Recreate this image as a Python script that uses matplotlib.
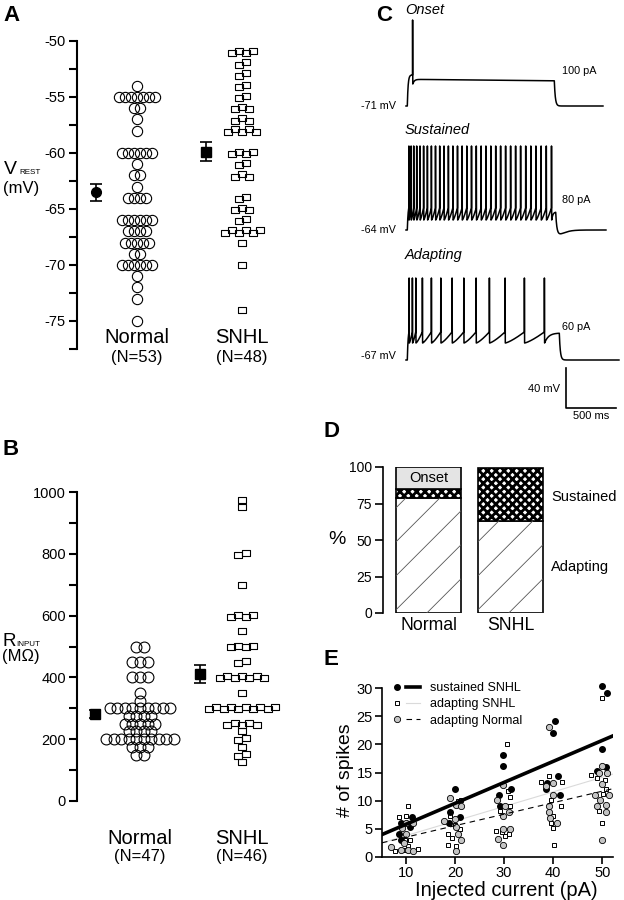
import numpy as np
import matplotlib
matplotlib.use('Agg')
import matplotlib.pyplot as plt
from matplotlib.path import Path
from matplotlib.lines import Line2D
from matplotlib.legend_handler import HandlerTuple

plt.rcParams['font.family'] = ['Liberation Sans', 'DejaVu Sans']
plt.rcParams['axes.unicode_minus'] = False
plt.rcParams['hatch.linewidth'] = 2.0

# ---- A: resting potential (mV); value rows and number of cells per row
vrest_normal = [-54, -55, -56, -57, -58, -60, -61, -62, -63, -64, -66, -67, -68, -69, -70, -71, -72, -73, -75]
vrest_normal_n = [1, 7, 2, 1, 1, 6, 1, 2, 1, 4, 6, 4, 5, 2, 6, 1, 1, 1, 1]
vrest_snhl = [-51, -52, -53, -54, -55, -56, -57, -58, -60, -61, -62, -64, -65, -66, -67, -68, -70, -74]
vrest_snhl_n = [4, 2, 2, 2, 2, 3, 3, 5, 4, 2, 3, 2, 3, 2, 6, 1, 1, 1]
vrest_mean = [-63.5, -59.9]
vrest_sem = [0.75, 0.85]

# ---- B: input resistance (MOhm)
rin_normal = [500, 450, 400, 350, 325, 300, 275, 250, 225, 200, 175, 150]
rin_normal_n = [2, 3, 3, 1, 1, 9, 4, 5, 4, 10, 3, 2]
rin_snhl = [975, 950, 800, 700, 600, 550, 500, 450, 400, 350, 300, 250, 225, 200, 175, 150, 125]
rin_snhl_n = [1, 1, 2, 1, 4, 1, 4, 2, 7, 1, 10, 5, 1, 2, 1, 2, 1]
rin_mean = [281, 411]
rin_sem = [12, 30]

# ---- C: example firing patterns (spike times in ms)
onset_spikes = [225]
sustained_spikes = [188, 210, 236, 266, 299, 335, 373, 413, 454, 496, 539, 583, 628, 674, 720,
                    767, 814, 862, 910, 958, 1007, 1056, 1105, 1155, 1205, 1255, 1305, 1356,
                    1407, 1458, 1510, 1562, 1614]
adapting_spikes = [190, 223, 257, 323, 413, 507, 620, 737, 860, 993, 1150, 1343, 1543]

# ---- D: firing pattern percentages
d_groups = ['Normal', 'SNHL']
d_adapting = [79, 63]
d_sustained = [6, 36]
d_onset = [15, 0]

# ---- E: spikes vs injected current
sus_x = [11.2, 8.9, 10.9, 8.6, 8.9, 20.0, 18.9, 21.0, 18.7, 29.8, 29.8, 31.5, 28.9, 29.2,
         40.4, 39.9, 41.0, 38.7, 38.5, 41.4, 49.9, 51.0, 49.9, 48.9, 50.7]
sus_y = [7.05, 6.0, 5.4, 4.1, 3.0, 12.0, 8.05, 7.05, 6.1, 18.1, 16.1, 12.0, 11.0, 9.1,
         24.1, 22.0, 14.3, 13.1, 12.0, 11.0, 30.3, 29.2, 19.1, 15.3, 16.0]
ads_x = [10.3, 8.6, 9.9, 10.8, 9.8, 10.3, 7.8, 9.8, 12.4,
         20.5, 21.3, 18.9, 20.0, 21.0, 18.6, 19.3, 18.6, 20.2,
         30.5, 30.8, 31.3, 31.3, 29.2, 28.3, 29.5, 30.9, 30.1,
         39.2, 37.6, 41.7, 39.5, 41.6, 40.0, 39.5, 40.0, 40.2,
         49.9, 47.8, 48.9, 50.6, 50.7, 50.2, 49.4, 49.9]
ads_y = [9.1, 7.05, 7.2, 3.1, 3.1, 2.0, 1.1, 1.2, 1.5,
         9.9, 10.2, 7.3, 5.7, 4.9, 4.0, 3.3, 2.1, 1.9,
         20.0, 11.8, 10.7, 9.1, 8.1, 4.7, 4.4, 4.1, 3.7,
         14.3, 13.4, 13.4, 10.1, 9.1, 7.2, 6.1, 5.1, 2.1,
         28.3, 14.6, 14.0, 13.7, 12.0, 11.1, 8.1, 6.0]
adn_x = [10.0, 11.5, 9.1, 10.0, 9.5, 7.0, 8.9, 10.4, 11.5,
         18.9, 20.2, 21.2, 17.8, 20.0, 20.2, 20.5, 21.2, 20.2,
         29.8, 28.5, 30.2, 31.0, 29.7, 29.8, 31.2, 28.8, 29.8,
         39.2, 40.0, 38.6, 39.9, 39.2, 39.2, 39.3, 40.7,
         49.9, 49.4, 50.9, 49.9, 48.5, 51.4, 49.5, 50.8, 48.9, 50.8, 49.9]
adn_y = [6.0, 6.1, 5.1, 4.1, 2.4, 1.7, 1.2, 1.2, 1.1,
         10.5, 9.2, 9.1, 6.4, 6.8, 5.4, 4.0, 3.0, 1.1,
         12.7, 10.1, 9.0, 8.0, 7.2, 5.0, 5.0, 3.2, 2.2,
         23.0, 13.1, 12.6, 11.0, 9.0, 8.0, 6.9, 6.1,
         16.1, 15.0, 15.0, 13.0, 11.0, 11.0, 10.1, 9.3, 9.0, 8.0, 3.1]
# regression lines: (intercept, slope)
sus_fit = (2.09, 0.372)
ads_fit = (1.2, 0.259)
adn_fit = (1.48, 0.204)

W, H = 624, 900
fig = plt.figure(figsize=(6.24, 9.0), dpi=100)


def box(x0, y0, x1, y1):
    # pixel box, origin top-left -> figure fraction
    return [x0 / W, 1 - y1 / H, (x1 - x0) / W, (y1 - y0) / H]


def ftext(x, y, s, **kw):
    return fig.text(x / W, 1 - y / H, s, **kw)


rect = Path([(-1, -0.72), (1, -0.72), (1, 0.72), (-1, 0.72), (-1, -0.72)],
            [Path.MOVETO, Path.LINETO, Path.LINETO, Path.LINETO, Path.CLOSEPOLY])


def swarm(ax, xc, vals, counts, step, dy=0.0, **kw):
    xs, ys = [], []
    for v, n in zip(vals, counts):
        k = np.arange(n)
        xs.extend(xc + (k - (n - 1) / 2) * step)
        ys.extend(v + dy * ((k % 2) * 2 - 1) * (n > 1))
    ax.plot(xs, ys, ls='none', clip_on=False, **kw)


def left_axis(ax):
    for s in ['top', 'right', 'bottom']:
        ax.spines[s].set_visible(False)
    ax.spines['left'].set_linewidth(1.5)
    ax.set_xticks([])
    ax.tick_params(axis='y', which='both', length=6, width=1.5, labelsize=10.5, pad=2)


# ---------------- A
axA = fig.add_axes(box(77, 41, 300, 349))
swarm(axA, 1, vrest_normal, vrest_normal_n, 0.056, marker='o', ms=7.4, mfc='none', mec='k', mew=0.8)
swarm(axA, 2, vrest_snhl, vrest_snhl_n, 0.066, dy=0.1, marker=rect, ms=5.4, mfc='none', mec='k', mew=0.8)
axA.errorbar([0.607, 1.654], vrest_mean, yerr=vrest_sem, fmt='none', ecolor='k', elinewidth=1.2,
             capsize=4, capthick=1.2)
axA.plot(0.607, vrest_mean[0], 'o', color='k', ms=7)
axA.plot(1.654, vrest_mean[1], 's', color='k', ms=6.5)
axA.set_xlim(0.43, 2.55)
axA.set_ylim(-77.5, -50)
left_axis(axA)
axA.set_yticks(np.arange(-75, -49, 5))
axA.set_yticks(np.arange(-77.5, -50, 5), minor=True)
for xc, name, n in [(1, 'Normal', '(N=53)'), (2, 'SNHL', '(N=48)')]:
    axA.text(xc, 0.037, name, transform=axA.get_xaxis_transform(), ha='center', va='center', fontsize=14.5)
    axA.text(xc, -0.028, n, transform=axA.get_xaxis_transform(), ha='center', va='center', fontsize=12)

ftext(4, 174, 'V', fontsize=14, va='baseline')
ftext(19, 174, 'REST', fontsize=5.8, va='baseline')
ftext(3, 189, '(mV)', fontsize=12, va='center')

# ---------------- B
axB = fig.add_axes(box(77, 492, 300, 801))
swarm(axB, 1, rin_normal, rin_normal_n, 0.074, marker='o', ms=7.8, mfc='none', mec='k', mew=0.8)
swarm(axB, 2, rin_snhl, rin_snhl_n, 0.072, dy=3, marker=rect, ms=5.4, mfc='none', mec='k', mew=0.8)
axB.errorbar([0.56, 1.59], rin_mean, yerr=rin_sem, fmt='none', ecolor='k', elinewidth=1.2,
             capsize=4, capthick=1.2)
axB.plot([0.56, 1.59], rin_mean, 's', color='k', ms=6.5)
axB.set_xlim(0.382, 2.57)
axB.set_ylim(0, 1000)
left_axis(axB)
axB.set_yticks(np.arange(0, 1001, 200))
axB.set_yticks(np.arange(100, 1000, 200), minor=True)
for xc, name, n in [(1, 'Normal', '(N=47)'), (2, 'SNHL', '(N=46)')]:
    axB.text(xc, -0.12, name, transform=axB.get_xaxis_transform(), ha='center', va='center', fontsize=14.5)
    axB.text(xc, -0.181, n, transform=axB.get_xaxis_transform(), ha='center', va='center', fontsize=12)

ftext(3, 646, 'R', fontsize=13.5, va='baseline')
ftext(16, 646, 'INPUT', fontsize=5.8, va='baseline')
ftext(2, 656, '(M\u03a9)', fontsize=12, va='center')


# ---------------- C
def make_trace(t, spikes, rest, on, off, thresh, trough, plat0, plat1, peak, tau=12, undershoot=0.0):
    v = np.full(t.shape, float(rest))
    plat = plat0 + (plat1 - plat0) * np.clip((t - on) / (off - on), 0, 1)
    first = spikes[0]
    m = (t >= on) & (t < first)
    v[m] = rest + (thresh - rest) * (1 - np.exp(-(t[m] - on) / 8)) / (1 - np.exp(-(first - on) / 8))
    for i, ts in enumerate(spikes):
        m = (t >= ts) & (t < ts + 1)
        v[m] = thresh + (peak - thresh) * (t[m] - ts)
        m = (t >= ts + 1) & (t < ts + 3)
        v[m] = peak + (trough - peak) * (t[m] - ts - 1) / 2
        if i + 1 < len(spikes):
            nxt = spikes[i + 1]
            m = (t >= ts + 3) & (t < nxt)
            frac = (t[m] - ts - 3) / (nxt - ts - 3)
            v[m] = trough + (thresh - trough) * frac ** 1.3
        else:
            m = (t >= ts + 3) & (t < off)
            v[m] = plat[m] + (trough - plat[m]) * np.exp(-(t[m] - ts - 3) / tau)
    m = t >= off
    voff = v[t < off][-1]
    dt = t[m] - off
    v[m] = rest + (voff - rest) * np.exp(-dt / 10) - undershoot * (dt / 40) * np.exp(1 - dt / 40)
    return v


axC = fig.add_axes(box(390, 0, 624, 420))
axC.set_xlim(0, 2340)
axC.set_ylim(-420, 0)
axC.axis('off')

t1 = np.arange(160, 2130, 0.5)
v1 = make_trace(t1, onset_spikes, -71, 173, 1643, -40, -49, -44.3, -45.8, 15, tau=15)
t2 = np.arange(160, 2160, 0.5)
v2 = make_trace(t2, sustained_spikes, -64, 173, 1657, -42, -54, -46, -46, 20, undershoot=4)
t3 = np.arange(160, 2290, 0.5)
v3 = make_trace(t3, adapting_spikes, -67, 173, 1693, -39, -50, -38, -40, 15, tau=40)
for t, v, rest, base in [(t1, v1, -71, 106), (t2, v2, -64, 230), (t3, v3, -67, 360)]:
    axC.plot(t, v - rest - base, color='k', lw=1.1)

# scale bar: 500 ms, 40 mV
axC.plot([1760, 1760, 1760 + 500], [-408 + 40, -408, -408], color='k', lw=1.2)
ftext(560, 389, '40 mV', fontsize=8, ha='right', va='center')
ftext(591, 416, '500 ms', fontsize=8, ha='center', va='center')

for y, s in [(10, 'Onset'), (130, 'Sustained'), (255, 'Adapting')]:
    ftext(405, y, s, fontsize=10.5, style='italic', va='center')
for y, s in [(71, '100 pA'), (200, '80 pA'), (327, '60 pA')]:
    ftext(562, y, s, fontsize=7.8, va='center')
for y, s in [(106, '-71 mV'), (230, '-64 mV'), (356, '-67 mV')]:
    ftext(396, y, s, fontsize=7.8, ha='right', va='center')

# ---------------- D
axD = fig.add_axes(box(383, 467, 553, 613))
axD.set_xlim(-0.555, 1.52)
axD.set_ylim(0, 100)
xpos = np.arange(len(d_groups))
bars_ad = axD.bar(xpos, d_adapting, width=0.79, color='white', edgecolor='k', lw=1.2)
axD.bar(xpos, d_sustained, bottom=d_adapting, width=0.79, color='white', edgecolor='k', lw=1.2, hatch='xxxx')
bot = np.add(d_adapting, d_sustained)
axD.bar(xpos[:1], d_onset[:1], bottom=bot[:1], width=0.79, color='#e4e4e4', edgecolor='k', lw=1.2)

# sparse 45 degree hatch in the adapting segments
sx = axD.transData.transform((1, 0))[0] - axD.transData.transform((0, 0))[0]
sy = axD.transData.transform((0, 1))[1] - axD.transData.transform((0, 0))[1]
for b in bars_ad:
    x0, y0, w, h = b.get_x(), b.get_y(), b.get_width(), b.get_height()
    for c in np.arange(y0 * sy - (x0 + w) * sx, (y0 + h) * sy - x0 * sx, 34):
        xx = np.array([x0, x0 + w])
        ln, = axD.plot(xx, (c + xx * sx) / sy, color='#555555', lw=0.6, scalex=False, scaley=False)
        ln.set_clip_path(b)
axD.set_xlim(-0.555, 1.52)
axD.set_ylim(0, 100)
axD.text(0, bot[0] + d_onset[0] / 2, 'Onset', ha='center', va='center', fontsize=10.5)

for s in ['top', 'right', 'bottom']:
    axD.spines[s].set_visible(False)
axD.spines['left'].set_linewidth(1.2)
axD.set_yticks([0, 25, 50, 75, 100])
axD.set_xticks(xpos)
axD.set_xticklabels(d_groups, fontsize=12.7)
axD.tick_params(axis='y', length=6, width=1.2, labelsize=10, pad=2)
axD.tick_params(axis='x', length=0, pad=3)
ftext(337, 539, '%', fontsize=14, ha='center', va='center')
ftext(551, 497, 'Sustained', fontsize=10.5, va='center')
ftext(551, 567, 'Adapting', fontsize=10.5, va='center')

# ---------------- E
axE = fig.add_axes(box(382, 688, 613, 857))
axE.set_xlim(5.1, 52.2)
axE.set_ylim(0, 30)
axE.plot(ads_x, ads_y, ls='none', marker='s', ms=3, mfc='white', mec='k', mew=0.7, zorder=3, clip_on=False)
axE.plot(sus_x, sus_y, ls='none', marker='o', ms=4, mfc='k', mec='k', zorder=3, clip_on=False)
axE.plot(adn_x, adn_y, ls='none', marker='o', ms=4.5, mfc='#c4c4c4', mec='k', mew=0.6, zorder=3, clip_on=False)
xl = np.array(axE.get_xlim())
axE.plot(xl, ads_fit[0] + ads_fit[1] * xl, color='#dadada', lw=0.8, zorder=2)
axE.plot(xl, adn_fit[0] + adn_fit[1] * xl, color='k', lw=0.8, dashes=(5, 4), zorder=4)
axE.plot(xl, sus_fit[0] + sus_fit[1] * xl, color='k', lw=2.6, zorder=4)

for s in ['top', 'right']:
    axE.spines[s].set_visible(False)
axE.spines['left'].set_linewidth(1.2)
axE.spines['bottom'].set_linewidth(1.2)
axE.set_xticks([10, 20, 30, 40, 50])
axE.set_yticks(np.arange(0, 31, 5))
axE.tick_params(length=5, width=1.2, labelsize=10.5, pad=1.5)
ftext(506, 890, 'Injected current (pA)', fontsize=14.5, ha='center', va='center')
ftext(345, 770, '# of spikes', fontsize=14, ha='center', va='center', rotation=90)

h_sus = (Line2D([], [], ls='none', marker='o', ms=4, color='k'), Line2D([], [], color='k', lw=2.6))
h_ads = (Line2D([], [], ls='none', marker='s', ms=3, mfc='white', mec='k', mew=0.7),
         Line2D([], [], color='#dadada', lw=0.8))
h_adn = (Line2D([], [], ls='none', marker='o', ms=4.5, mfc='#c4c4c4', mec='k', mew=0.6),
         Line2D([], [], color='k', lw=0.8, dashes=(5, 4)))
axE.legend([h_sus, h_ads, h_adn], ['sustained SNHL', 'adapting SNHL', 'adapting Normal'],
           handler_map={tuple: HandlerTuple(ndivide=None, pad=0.2)},
           loc='upper left', bbox_to_anchor=(390 / W, 1 - 682 / H), bbox_transform=fig.transFigure,
           frameon=False, fontsize=9, handlelength=2.4, handletextpad=0.8, labelspacing=0.35,
           borderpad=0, borderaxespad=0)

# panel letters
for x, y, s in [(3, 21, 'A'), (3, 455, 'B'), (376, 21, 'C'), (323, 437, 'D'), (323, 665, 'E')]:
    ftext(x, y, s, fontsize=16, weight='bold', va='baseline')

fig.savefig('out.png', dpi=100)
